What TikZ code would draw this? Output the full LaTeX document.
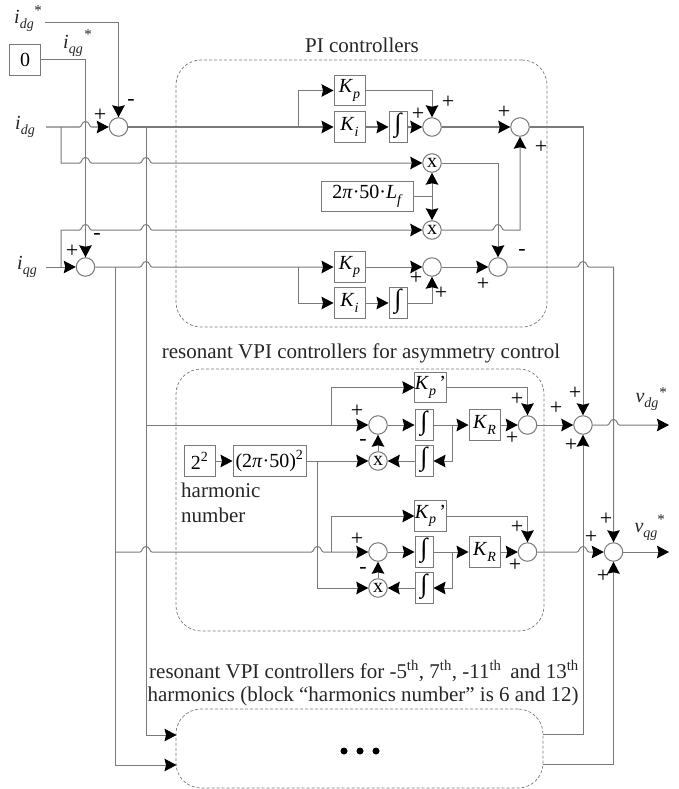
\documentclass[tikz,border=0pt]{standalone}
\usepackage{fontspec}
\setmainfont{Liberation Serif}
\usetikzlibrary{arrows.meta}
\definecolor{wirec}{HTML}{7A7A7A}
\definecolor{inkc}{HTML}{262626}
\newcommand\hop[2]{-- (#1-6,#2) .. controls (#1-3.5,#2) and (#1-4,#2-5.5) .. (#1,#2-5.5) .. controls (#1+4,#2-5.5) and (#1+3.5,#2) .. (#1+6,#2)}
\newcommand\nm[2]{\textit{#1}\raisebox{-.28em}{\fontsize{14}{14}\selectfont\textit{#2}}}
\newcommand\intg{\raisebox{-0.22em}[0pt][0pt]{\fontsize{26}{26}\selectfont ∫}}
\tikzset{
  wire/.style={draw=wirec,line width=1pt},
  arr/.style={wire,-{Stealth[length=12pt,width=12.5pt,inset=1.5pt,color=black]}},
  sumc/.style={circle,draw=wirec,line width=1pt,fill=white,minimum size=18.5pt,inner sep=0pt},
  mulc/.style={sumc,font=\fontsize{20}{20}\selectfont},
  blk/.style={draw=wirec,line width=1pt,fill=white,inner sep=0pt,minimum height=30.5pt,font=\fontsize{20}{20}\selectfont},
  kbox/.style={blk,minimum width=31pt},
  ibox/.style={blk,minimum width=18pt},
  dbox/.style={draw=wirec,line width=0.7pt,dash pattern=on 3pt off 2pt,rounded corners=25pt,inner sep=0pt},
  ttl/.style={inner sep=0pt,text=inkc,font=\fontsize{21}{21}\selectfont},
  lbl/.style={inner sep=0pt,text=inkc,font=\fontsize{20}{20}\selectfont},
  strn/.style={inner sep=0pt,text=inkc,font=\fontsize{15}{15}\selectfont},
  sgn/.style={inner sep=0pt,text=black,font=\fontsize{22}{22}\selectfont},
  dotn/.style={circle,fill=black,inner sep=0pt,minimum size=7pt},
}
\begin{document}
\begin{tikzpicture}[x=1pt,y=-1pt]
\useasboundingbox (0,0) rectangle (679,789);
% dashed regions
\node[dbox,minimum width=371pt,minimum height=267pt] (piregion) at (361.5,193.5) {};
\node[dbox,minimum width=368pt,minimum height=262pt] (vpiregion) at (360,500) {};
\node[dbox,minimum width=367pt,minimum height=79pt] (harmregion) at (359.5,748.5) {};
% titles
\node[ttl] (pititle) at (362,45) {PI controllers};
\node[ttl] (vpititle) at (361,353) {resonant VPI controllers for asymmetry control};
\node[ttl] (hone) at (364,671) {resonant VPI controllers for -5\textsuperscript{th}, 7\textsuperscript{th}, -11\textsuperscript{th}\, and 13\textsuperscript{th}};
\node[ttl] (htwo) at (363,696) {harmonics (block “harmonics number” is 6 and 12)};
\node[ttl,anchor=west] (hname) at (181,490) {harmonic};
\node[ttl,anchor=west] (nname) at (181,515) {number};
% labels
\node[lbl] (idgs) at (24,21) {\nm{i}{dg}};
\node[strn] (idgstar) at (38,11) {*};
\node[lbl] (iqgs) at (73,46) {\nm{i}{qg}};
\node[strn] (iqgstar) at (88,35) {*};
\node[lbl] (idg) at (25,127) {\nm{i}{dg}};
\node[lbl] (iqg) at (27,267) {\nm{i}{qg}};
\node[lbl] (vdg) at (647,402) {\nm{v}{dg}};
\node[strn] (vdgstar) at (663,393) {*};
\node[lbl] (vqg) at (646,532) {\nm{v}{qg}};
\node[strn] (vqgstar) at (661,520) {*};
% left input
\node[blk,minimum width=30.5pt] (zero) at (25,60) {0};
\coordinate (idgsout) at (45,23);
\coordinate (idgout) at (46,127);
\coordinate (iqgout) at (46,267);
\node[sumc] (sumd) at (118.5,127) {};
\node[sumc] (sumq) at (85.5,267) {};
% PI
\node[kbox] (kp1) at (349.5,90.5) {\nm{K}{p}};
\node[kbox] (ki1) at (349.5,127) {\nm{K}{i}};
\node[ibox] (int1) at (398,127) {\intg};
\node[sumc] (s1) at (432,127) {};
\node[sumc] (sp) at (520,127) {};
\node[mulc] (x1) at (432,163) {x};
\node[blk,minimum width=91.5pt] (lf) at (367.5,196.5) {2\textit{π}·50·\nm{L}{f}};
\node[mulc] (x2) at (432,230) {x};
\node[kbox] (kp2) at (349.5,267) {\nm{K}{p}};
\node[kbox] (ki2) at (349.5,303) {\nm{K}{i}};
\node[ibox] (int2) at (398,303) {\intg};
\node[sumc] (s2) at (432,267) {};
\node[sumc] (sm) at (498,267) {};
% VPI upper
\node[blk,minimum width=31pt] (two) at (199.5,461) {2\textsuperscript{2}};
\node[blk,minimum width=73pt] (wsq) at (269.5,461) {(2\textit{π}·50)\textsuperscript{2}};
\node[kbox] (kr1) at (430.5,387.5) {\nm{K}{p}\,’};
\node[sumc] (v1) at (378,425) {};
\node[mulc] (vx1) at (378,461) {x};
\node[ibox] (vi1) at (424,425) {\intg};
\node[ibox] (vj1) at (424,461) {\intg};
\node[kbox] (kg1) at (484.5,425) {\nm{K}{R}};
\node[sumc] (ve1) at (527.5,425) {};
% VPI lower
\node[kbox] (kr2) at (430.5,516) {\nm{K}{p}\,’};
\node[sumc] (v2) at (378,552) {};
\node[mulc] (vx2) at (378,588) {x};
\node[ibox] (vi2) at (424,552) {\intg};
\node[ibox] (vj2) at (424,588) {\intg};
\node[kbox] (kg2) at (484.5,552) {\nm{K}{R}};
\node[sumc] (ve2) at (527.5,552) {};
% final sums
\node[sumc] (fd) at (583,425) {};
\node[sumc] (fq) at (613.5,552) {};
\coordinate (vdend) at (669,425);
\coordinate (vqend) at (669,552);
% junctions
\coordinate (ja) at (61,127);
\coordinate (jb) at (61,163);
\coordinate (jc) at (61,267);
\coordinate (jd) at (61,230);
\coordinate (bus1) at (146,127);
\coordinate (bus2) at (115,267);
\coordinate (tap1) at (298,127);
\coordinate (tap2) at (298,267);
\coordinate (ha) at (176.5,735);
\coordinate (hb) at (176.5,765);
\coordinate (hc) at (543,734);
\coordinate (hd) at (543,764);
\coordinate (ba) at (146,425);
\coordinate (bb) at (115,552);
\coordinate (tap3) at (331,425);
\coordinate (tap4) at (331,552);
\coordinate (wtap) at (317.5,461);
\coordinate (wend) at (317.5,588);
\coordinate (fb1) at (452,425);
\coordinate (fb2) at (452,552);
\coordinate (lftap) at (432,196.5);
% wires: inputs
\draw[arr] (idgsout) -| (sumd.north);
\draw[arr] (zero.east) -| (sumq.north);
\draw[arr] (idgout) \hop{85.5}{127} -- (sumd.west);
\draw[arr] (ja) |- (jb) \hop{85.5}{163} \hop{146}{163} -- (x1.west);
\draw[arr] (iqgout) -- (sumq.west);
\draw[arr] (jc) -- (jd) \hop{85.5}{230} \hop{146}{230} -- (x2.west);
\draw[arr] (sumd.east) -- (ki1.west);
\draw[arr] (tap1) |- (kp1.west);
\draw[arr] (bus1) |- (ha);
\draw[arr] (sumq.east) \hop{146}{267} -- (kp2.west);
\draw[arr] (tap2) |- (ki2.west);
\draw[arr] (bus2) |- (hb);
% PI internals
\draw[arr] (ki1.east) -- (int1.west);
\draw[arr] (int1.east) -- (s1.west);
\draw[arr] (kp1.east) -| (s1.north);
\draw[arr] (s1.east) -- (sp.west);
\draw[arr] (lftap) -- (x1.south);
\draw[arr] (lftap) -- (x2.north);
\draw[wire] (lf.east) -- (lftap);
\draw[arr] (x1.east) -| (sm.north);
\draw[arr] (x2.east) \hop{498}{230} -| (sp.south);
\draw[arr] (kp2.east) -- (s2.west);
\draw[arr] (ki2.east) -- (int2.west);
\draw[arr] (int2.east) -| (s2.south);
\draw[arr] (s2.east) -- (sm.west);
\draw[arr] (sp.east) -| (fd.north);
\draw[arr] (sm.east) \hop{583}{267} -| (fq.north);
% VPI upper
\draw[arr] (ba) -- (v1.west);
\draw[arr] (tap3) |- (kr1.west);
\draw[arr] (v1.east) -- (vi1.west);
\draw[arr] (vi1.east) -- (kg1.west);
\draw[arr] (kg1.east) -- (ve1.west);
\draw[arr] (kr1.east) -| (ve1.north);
\draw[arr] (fb1) |- (vj1.east);
\draw[arr] (vj1.west) -- (vx1.east);
\draw[arr] (vx1.north) -- (v1.south);
\draw[arr] (two.east) -- (wsq.west);
\draw[arr] (wsq.east) -- (vx1.west);
\draw[arr] (ve1.east) -- (fd.west);
% VPI lower
\draw[arr] (bb) \hop{146}{552} \hop{317.5}{552} -- (v2.west);
\draw[arr] (tap4) |- (kr2.west);
\draw[arr] (v2.east) -- (vi2.west);
\draw[arr] (vi2.east) -- (kg2.west);
\draw[arr] (kg2.east) -- (ve2.west);
\draw[arr] (kr2.east) -| (ve2.north);
\draw[arr] (fb2) |- (vj2.east);
\draw[arr] (vj2.west) -- (vx2.east);
\draw[arr] (vx2.north) -- (v2.south);
\draw[arr] (wtap) |- (wend) -- (vx2.west);
\draw[arr] (ve2.east) \hop{583}{552} -- (fq.west);
% outputs
\draw[arr] (fd.east) \hop{613.5}{425} -- (vdend);
\draw[arr] (fq.east) -- (vqend);
\draw[arr] (hc) -| (fd.south);
\draw[arr] (hd) -| (fq.south);
% dots
\foreach \px [count=\n] in {344,360,376} \node[dotn] (dot\n) at (\px,751) {};
% signs
\foreach \px/\py [count=\n] in {100/115,72/251,448/102,418/114,504/112,541/147,416/278,483/284,441/293,357/411,357/539,517/399,512/438,556/408,575/393,571/445,517/527,515/565,591/537,606/519,603/576}
  \node[sgn] (plus\n) at (\px,\py) {+};
\foreach \px/\py [count=\n] in {131/102,97/236,522/252,363/442,363/570}
  \node[sgn] (minus\n) at (\px,\py) {-};
\end{tikzpicture}
\end{document}
